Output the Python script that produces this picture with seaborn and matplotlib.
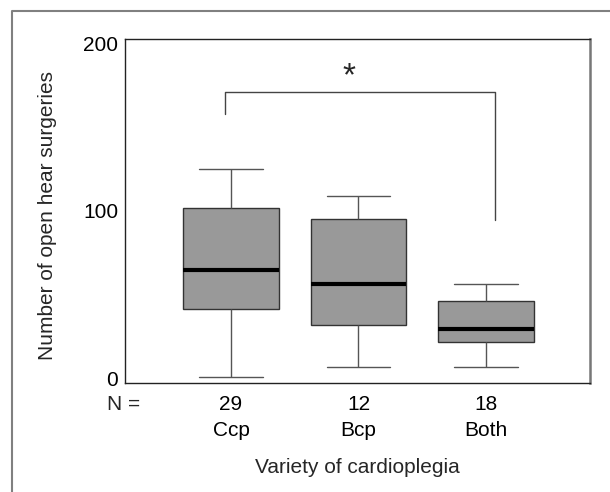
import numpy as np
import pandas as pd
import matplotlib
matplotlib.use("Agg")
import matplotlib.pyplot as plt
from matplotlib.lines import Line2D
import seaborn as sns

# ---- data (five-number summaries) ----
categories = ["Ccp", "Bcp", "Both"]
counts = [29, 12, 18]
ccp_summary = [1, 41.5, 64.5, 101.5, 125]
bcp_summary = [7, 32, 56.5, 95, 109]
both_summary = [7, 21.5, 29.5, 46.5, 56.5]
y_ticks = [0, 100, 200]
bracket_left_y = 158
bracket_top_y = 171
bracket_right_y = 94.5
star_y = 180

sns.set_theme(style="white")
plt.rcParams["font.family"] = ["Liberation Sans", "DejaVu Sans"]

df = pd.DataFrame({
    "group": np.repeat(categories, 5),
    "value": ccp_summary + bcp_summary + both_summary,
})

fig = plt.figure(figsize=(6.1, 4.92), dpi=100)
ax = fig.add_axes([125 / 610, 109 / 492, 465 / 610, 344 / 492])

sns.boxplot(
    data=df, x="group", y="value", order=categories, ax=ax,
    color="#999999", saturation=1, width=0.75, whis=(0, 100),
    linecolor="#333333", linewidth=1.0, capwidths=0.5,
    medianprops=dict(color="black", linewidth=3.0),
    whiskerprops=dict(color="#555555", linewidth=1.0),
    capprops=dict(color="#555555", linewidth=1.0),
    boxprops=dict(edgecolor="#333333", linewidth=1.0),
)

ax.set_xlim(-0.831, 2.816)
ax.set_ylim(-2.7, 202.7)
ax.set_yticks(y_ticks)
ax.set_yticklabels([str(t) for t in y_ticks], fontsize=15, color="black")
ax.set_xticks(range(len(categories)))
ax.set_xticklabels([f"{n}\n{c}" for n, c in zip(counts, categories)],
                   fontsize=15, color="black", linespacing=1.45)
ax.tick_params(axis="both", length=0)
ax.tick_params(axis="y", pad=5)
ax.tick_params(axis="x", pad=9)
ax.set_xlabel("Variety of cardioplegia", fontsize=15, labelpad=13)
ax.set_ylabel("Number of open hear surgeries", fontsize=15)
ax.yaxis.set_label_coords(-0.146, 0.488)

for side in ["left", "top", "bottom"]:
    ax.spines[side].set_color("#222222")
    ax.spines[side].set_linewidth(1.0)
ax.spines["right"].set_color("#777777")
ax.spines["right"].set_linewidth(1.8)

# significance bracket
ax.plot([-0.05, -0.05, 2.07, 2.07],
        [bracket_left_y, bracket_top_y, bracket_top_y, bracket_right_y],
        color="#444444", linewidth=1.0)
ax.text(0.925, star_y, "*", ha="center", va="center", fontsize=24)

# N = label
fig.text(107 / 610, 1 - 405 / 492, "N =", ha="left", va="center", fontsize=15)

# outer frame (partially cropped)
fig.add_artist(Line2D([12.5 / 610, 12.5 / 610, 1.0],
                      [0.0, 1 - 10.5 / 492, 1 - 10.5 / 492],
                      transform=fig.transFigure, color="#808080", linewidth=1.5))

fig.savefig("out.png", dpi=100)
